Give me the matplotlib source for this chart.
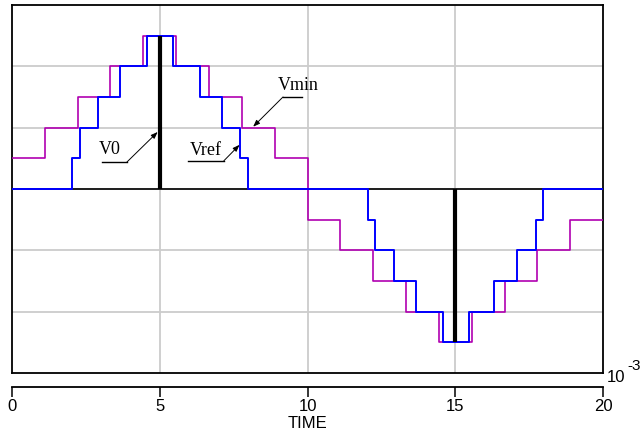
import matplotlib
matplotlib.use("Agg")
import matplotlib.pyplot as plt
from matplotlib.lines import Line2D

# Step data (time in ms, level in quantisation steps)
vmin_t = [0, 1.11, 2.22, 3.33, 4.44, 5.56, 6.67, 7.78, 8.89, 10.0,
          11.11, 12.22, 13.33, 14.44, 15.56, 16.67, 17.78, 18.89, 20]
vmin_lv = [1, 2, 3, 4, 5, 4, 3, 2, 1, -1, -2, -3, -4, -5, -4, -3, -2, -1, -1]

vref_t = [0, 2.04, 2.30, 2.90, 3.65, 4.56, 5.44, 6.36, 7.10, 7.72, 8.00,
          12.04, 12.30, 12.93, 13.67, 14.57, 15.47, 16.32, 17.10, 17.73, 17.98, 20]
vref_lv = [0, 1, 2, 3, 4, 5, 4, 3, 2, 1, 0, -1, -2, -3, -4, -5, -4, -3, -2, -1, 0, 0]

v0_t = [0, 20]
v0_lv = [0, 0]
pulse_t = [5, 15]
pulse_lv = [5, -5]

xticks = [0, 5, 10, 15, 20]

PURPLE = "#b000b0"
BLUE = "#0000ff"
GRID = "#cccccc"

fig = plt.figure(figsize=(6.44, 4.32), dpi=100)
ax = fig.add_axes([12 / 644, 1 - 373 / 432, 591 / 644, 368 / 432])

ax.set_xlim(0, 20)
ax.set_ylim(-6, 6)

# grid
for gx in [5, 10, 15]:
    ax.axvline(gx, color=GRID, lw=1.3, zorder=0)
for gy in [-4, -2, 0, 2, 4]:
    ax.axhline(gy, color=GRID, lw=1.3, zorder=0)

# curves
ax.plot(v0_t, v0_lv, color="black", lw=1.2, zorder=2)
ax.step(vmin_t, vmin_lv, where="post", color=PURPLE, lw=1.2, zorder=3)
ax.step(vref_t, vref_lv, where="post", color=BLUE, lw=1.4, zorder=4)
ax.vlines(pulse_t, 0, pulse_lv, color="black", lw=3, zorder=5)

# labels with leader lines
serif = dict(family="Liberation Serif", size=13)
arrow = dict(arrowstyle="-|>,head_length=0.4,head_width=0.15", color="black",
             lw=0.7, shrinkA=0, shrinkB=0)
labels = [
    ("V0", (3.32, 1.28), (3.05, 3.89, 0.88), (4.93, 1.86)),
    ("Vref", (6.55, 1.25), (5.96, 7.17, 0.92), (7.70, 1.44)),
    ("Vmin", (9.68, 3.37), (9.17, 9.81, 3.0), (8.16, 2.03)),
]
for txt, (tx, ty), (u0, u1, uy), tip in labels:
    ax.text(tx, ty, txt, ha="center", va="center", zorder=6, **serif)
    ax.plot([u0, u1], [uy, uy], color="black", lw=1, zorder=6)
    ax.annotate("", xy=tip, xytext=(u1 if txt != "Vmin" else u0, uy),
                arrowprops=arrow, zorder=6)

# frame
for s in ["left", "right", "top"]:
    ax.spines[s].set_linewidth(1.3)
ax.spines["bottom"].set_position(("outward", 10))
ax.spines["bottom"].set_linewidth(1.3)
ax.add_line(Line2D([0, 1], [0, 0], transform=ax.transAxes, color="black",
                   lw=1.3, clip_on=False, zorder=7))

ax.set_yticks([])
ax.set_xticks(xticks)
ax.set_xticklabels([str(v) for v in xticks])
ax.tick_params(axis="x", direction="out", length=7, width=1.1, pad=2,
               labelsize=12)
for lab in ax.get_xticklabels():
    lab.set_family("Liberation Sans")

fig.text(307 / 644, 1 - 424 / 432, "TIME", ha="center", va="center",
         family="Liberation Sans", size=12)
fig.text(607 / 644, 1 - 378 / 432, "10", ha="left", va="center",
         family="Liberation Sans", size=12)
fig.text(627 / 644, 1 - 366 / 432, "-3", ha="left", va="center",
         family="Liberation Sans", size=11)

fig.savefig("out.png", dpi=100)
